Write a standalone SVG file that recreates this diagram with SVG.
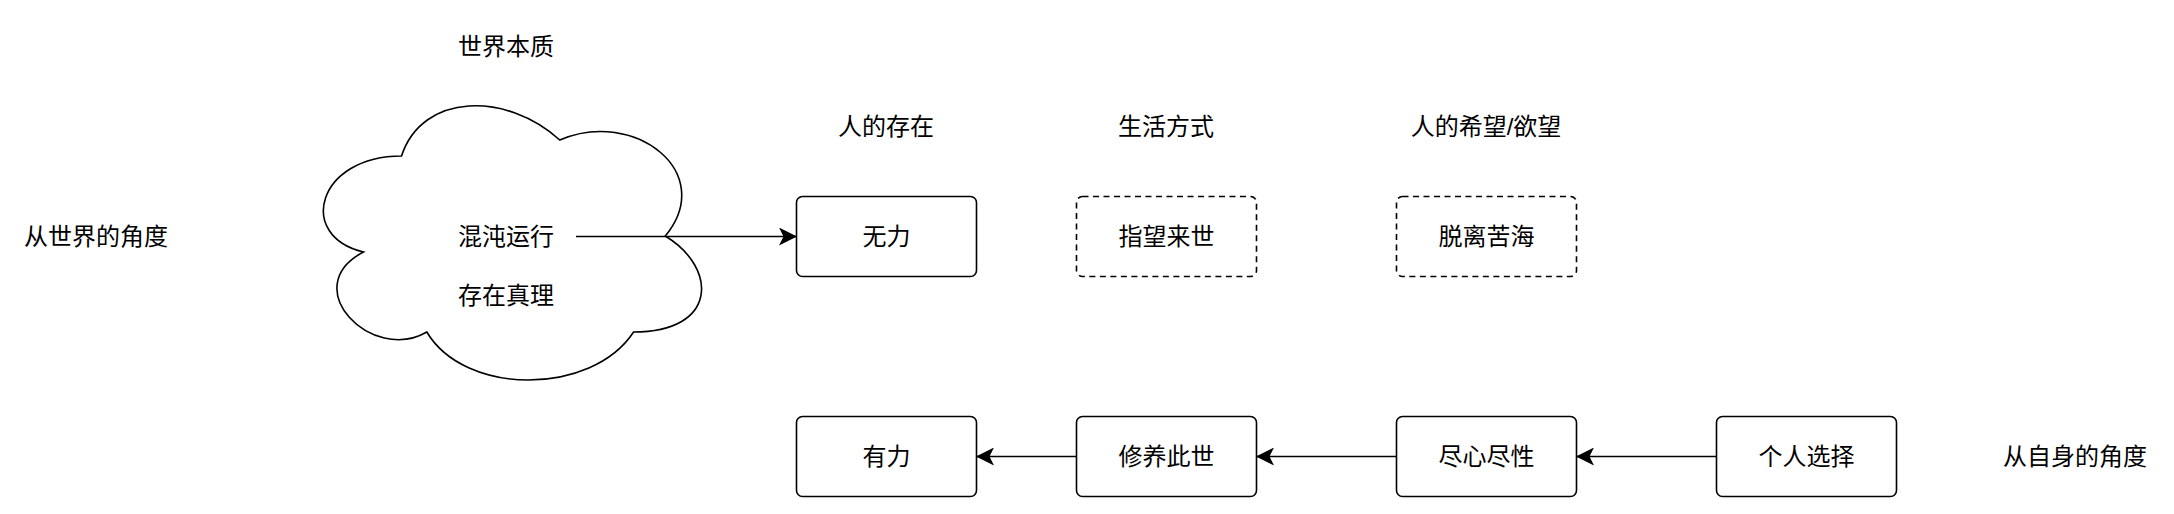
<svg xmlns="http://www.w3.org/2000/svg" width="2174" height="514" viewBox="0 0 2174 514">
<style>
text{font-family:"Liberation Sans","Noto Sans CJK SC",sans-serif;font-size:24px;fill:#000;text-anchor:middle;dominant-baseline:central}
.box{fill:#fff;stroke:#000;stroke-width:1.6}
.dash{fill:#fff;stroke:#000;stroke-width:1.6;stroke-dasharray:6 4.5}
.edge{fill:none;stroke:#000;stroke-width:1.6}
</style>
<defs>
<marker id="arr" markerUnits="userSpaceOnUse" viewBox="0 0 18 18" markerWidth="18" markerHeight="18" refX="17" refY="9" orient="auto">
<path d="M0,0 L18,9 L0,18 L4.5,9 Z" fill="#000"/>
</marker>
</defs>
<rect width="2174" height="514" fill="#fff"/>
<g id="label-world-nature"><text x="506" y="46">世界本质</text></g>
<g id="label-world-angle"><text x="96" y="236">从世界的角度</text></g>
<g id="label-self-angle"><text x="2075" y="456">从自身的角度</text></g>
<g id="label-existence"><text x="886" y="126">人的存在</text></g>
<g id="label-lifestyle"><text x="1166" y="126">生活方式</text></g>
<g id="label-hope"><text x="1486" y="126">人的希望/欲望</text></g>
<g id="cloud">
<path class="box" d="M401.5,156 C317.1,156 296,236 363.5,252 C296,287.2 372,364 426.8,332 C464.8,396 591.4,396 633.6,332 C718,332 718,268 665.25,236 C718,172 633.6,108 559.75,140 C507,92 422.6,92 401.5,156 Z"/>
<text x="506" y="236">混沌运行</text>
<text x="506" y="295">存在真理</text>
</g>
<g id="node-wuli"><rect class="box" x="796.5" y="196.5" width="180" height="80" rx="6"/><text x="886.5" y="236.5">无力</text></g>
<g id="node-laishi"><rect class="dash" x="1076.5" y="196.5" width="180" height="80" rx="6"/><text x="1166.5" y="236.5">指望来世</text></g>
<g id="node-kuhai"><rect class="dash" x="1396.5" y="196.5" width="180" height="80" rx="6"/><text x="1486.5" y="236.5">脱离苦海</text></g>
<g id="node-youli"><rect class="box" x="796.5" y="416.5" width="180" height="80" rx="6"/><text x="886.5" y="456.5">有力</text></g>
<g id="node-cishi"><rect class="box" x="1076.5" y="416.5" width="180" height="80" rx="6"/><text x="1166.5" y="456.5">修养此世</text></g>
<g id="node-jinxin"><rect class="box" x="1396.5" y="416.5" width="180" height="80" rx="6"/><text x="1486.5" y="456.5">尽心尽性</text></g>
<g id="node-xuanze"><rect class="box" x="1716.5" y="416.5" width="180" height="80" rx="6"/><text x="1806.5" y="456.5">个人选择</text></g>
<g id="connectors">
<line class="edge" x1="576" y1="236.5" x2="796" y2="236.5" marker-end="url(#arr)"/>
<line class="edge" x1="1716" y1="456.5" x2="1577" y2="456.5" marker-end="url(#arr)"/>
<line class="edge" x1="1396" y1="456.5" x2="1257" y2="456.5" marker-end="url(#arr)"/>
<line class="edge" x1="1076" y1="456.5" x2="977" y2="456.5" marker-end="url(#arr)"/>
</g>
</svg>
